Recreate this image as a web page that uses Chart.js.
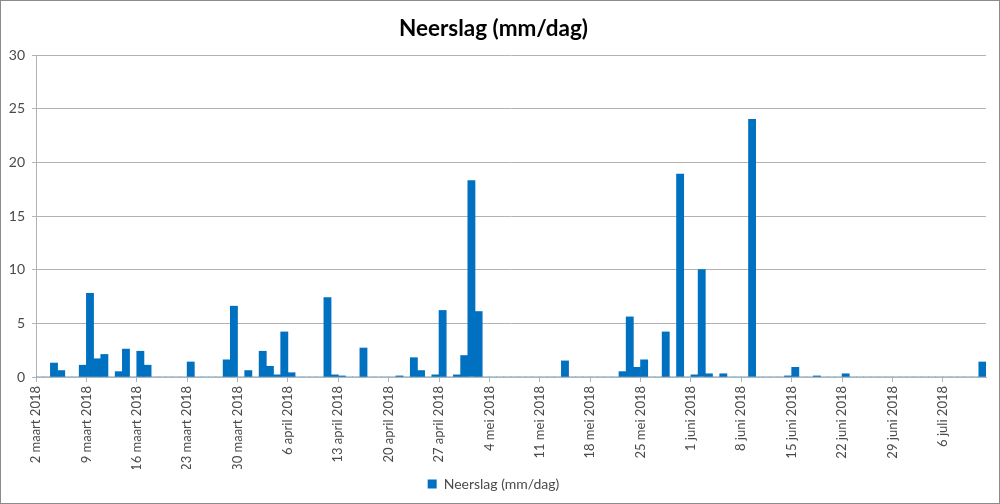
<!DOCTYPE html>
<html>
<head>
<meta charset="utf-8">
<script src="https://cdn.jsdelivr.net/npm/chart.js@4.4.1/dist/chart.umd.min.js"></script>
<style>
  html, body { margin: 0; padding: 0; background: #fff; }
  #wrap { width: 1000px; height: 504px; box-sizing: border-box; border: 1px solid #8c8c8c; }
  canvas { display: block; }
</style>
</head>
<body>
<div id="wrap"><canvas id="neerslagChart" width="998" height="502"></canvas></div>
<script>
// dagelijkse neerslag vanaf 2 maart 2018 (132 dagen, t/m 11 juli 2018)
const startDatum = new Date(2018, 2, 2);
const neerslag = [
    0, 0, 1.3, 0.6, 0, 0, 1.1,
    7.8, 1.7, 2.1, 0, 0.5, 2.6, 0,
    2.4, 1.1, 0, 0, 0, 0, 0,
    1.4, 0, 0, 0, 0, 1.6, 6.6,
    0, 0.6, 0, 2.4, 1.0, 0.2, 4.2,
    0.4, 0, 0, 0, 0, 7.4, 0.2,
    0.1, 0, 0, 2.7, 0, 0, 0,
    0, 0.1, 0, 1.8, 0.6, 0, 0.2,
    6.2, 0, 0.2, 2.0, 18.3, 6.1, 0,
    0, 0, 0, 0, 0, 0, 0,
    0, 0, 0, 1.5, 0, 0, 0,
    0, 0, 0, 0, 0.5, 5.6, 0.9,
    1.6, 0, 0, 4.2, 0, 18.9, 0,
    0.2, 10.0, 0.3, 0, 0.3, 0, 0,
    0, 24.0, 0, 0, 0, 0, 0.1,
    0.9, 0, 0, 0.1, 0, 0, 0,
    0.3, 0, 0, 0, 0, 0, 0,
    0, 0, 0, 0, 0, 0, 0,
    0, 0, 0, 0, 0, 1.4
];
const tickLabels = [
    '2 maart 2018', '9 maart 2018', '16 maart 2018', '23 maart 2018', '30 maart 2018',
    '6 april 2018', '13 april 2018', '20 april 2018', '27 april 2018', '4 mei 2018',
    '11 mei 2018', '18 mei 2018', '25 mei 2018', '1 juni 2018', '8 juni 2018',
    '15 juni 2018', '22 juni 2018', '29 juni 2018', '6 juli 2018'
];
const yTicks = [0, 5, 10, 15, 20, 25, 30];

const maanden = ['januari', 'februari', 'maart', 'april', 'mei', 'juni', 'juli'];
const dagen = neerslag.map((v, i) => {
    const d = new Date(startDatum.getTime());
    d.setDate(d.getDate() + i);
    return `${d.getDate()} ${maanden[d.getMonth()]} ${d.getFullYear()}`;
});

const grijs = '#b3b3b3';
const tekst = '#4a4a4a';
Chart.defaults.font.family = 'Lato, "Open Sans", sans-serif';

new Chart(document.getElementById('neerslagChart').getContext('2d'), {
    type: 'bar',
    data: {
        datasets: [{
            label: 'Neerslag (mm/dag)',
            data: neerslag.map((v, i) => ({ x: i + 0.5, y: v, dag: dagen[i] })),
            backgroundColor: '#0070c0',
            borderWidth: 0,
            barPercentage: 1,
            categoryPercentage: 1
        }]
    },
    options: {
        responsive: false,
        animation: false,
        layout: { padding: { left: 0, right: 13, top: 7, bottom: 2 } },
        plugins: {
            title: {
                display: true,
                text: 'Neerslag (mm/dag)',
                color: '#000',
                font: { size: 22.5, weight: 'bold' },
                padding: { top: 7, bottom: 13 }
            },
            legend: {
                position: 'bottom',
                labels: {
                    color: tekst,
                    boxWidth: 9,
                    boxHeight: 9,
                    font: { size: 14 },
                    padding: 8
                }
            },
            tooltip: {
                callbacks: { title: items => items[0].raw.dag }
            }
        },
        scales: {
            x: {
                type: 'linear',
                min: 0,
                max: neerslag.length,
                offset: false,
                afterBuildTicks: s => { s.ticks = tickLabels.map((t, i) => ({ value: i * 7 })); },
                afterFit: s => { s.height = 92; },
                grid: { display: true, offset: false, drawOnChartArea: false, drawTicks: true, tickLength: 5, color: grijs },
                border: { display: true, color: grijs },
                ticks: {
                    autoSkip: false,
                    minRotation: 90,
                    maxRotation: 90,
                    color: tekst,
                    font: { size: 13 },
                    padding: 4,
                    callback: v => tickLabels[Math.round(v / 7)]
                }
            },
            y: {
                min: 0,
                max: 30,
                afterBuildTicks: s => { s.ticks = yTicks.map(v => ({ value: v })); },
                afterFit: s => { s.width = 35; },
                grid: { color: grijs, tickLength: 4 },
                border: { display: true, color: grijs },
                ticks: { color: tekst, font: { size: 14 }, padding: 7 }
            }
        }
    }
});
</script>
</body>
</html>
